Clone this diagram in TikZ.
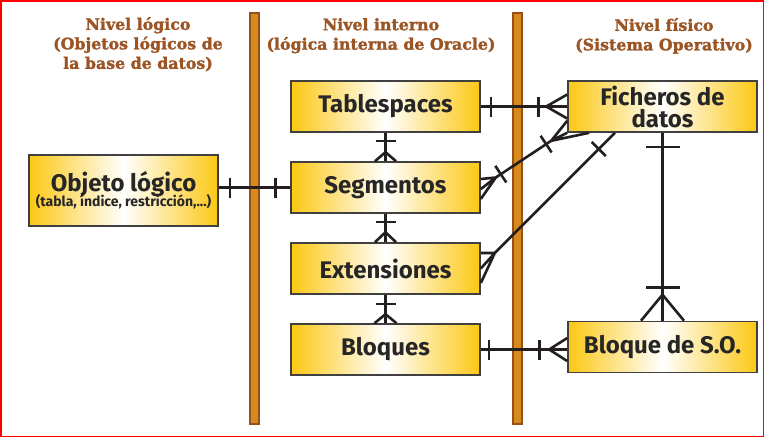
\documentclass[tikz,border=0pt]{standalone}
\usepackage{fontspec}
\setmainfont{Fira Sans}
\newfontfamily\headfont[BoldFont={DejaVu Serif Bold},BoldFeatures={FakeBold=1.6}]{DejaVu Serif}
\usetikzlibrary{positioning, calc, decorations.markings}

\definecolor{gold}{RGB}{252,200,20}
\definecolor{barC}{RGB}{214,138,28}
\definecolor{barD}{RGB}{150,80,28}
\definecolor{headC}{RGB}{155,84,35}
\definecolor{lineC}{RGB}{35,31,32}
\definecolor{boxD}{RGB}{64,64,64}

\begin{document}
\begin{tikzpicture}[x=1pt,y=-1pt,node distance=81pt,on grid,
    rel/.style={line width=2.6pt,draw=lineC},
    onetick/.style={postaction={decorate,decoration={markings,
        mark=at position #1 with {\draw[rel] (0,-10)--(0,10);}}}},
    bigtick/.style={postaction={decorate,decoration={markings,
        mark=at position #1 with {\draw[rel] (0,-17)--(0,17);}}}},
    crow/.style 2 args={postaction={decorate,decoration={markings,
        mark=at position 1 with {\draw[rel] (-#1,0)--(0,#2) (-#1,0)--(0,-#2);}}}}]
  \tikzstyle{box}=[draw=boxD,line width=1.6pt,left color=gold,right color=gold,middle color=white,
    minimum width=189pt,minimum height=51pt,inner sep=0pt,text=black!85,align=center,
    font=\bfseries\fontsize{24}{22}\selectfont]
  \tikzstyle{head}=[font=\headfont\bfseries\fontsize{15.8}{19.5}\selectfont,text=headC,align=center,
    inner sep=0pt,anchor=north]
  \tikzstyle{bar}=[draw=barD,fill=barC,line width=2pt]

  \useasboundingbox (0,0) rectangle (764,437);

  % headings and level bars
  \node[head] (lgH) at (138,17) {Nivel lógico\\(Objetos lógicos de\\la base de datos)};
  \node[head] (inH) at (381,18) {Nivel interno\\(lógica interna de Oracle)};
  \node[head] (fiH) at (664,18) {Nivel físico\\(Sistema Operativo)};
  \draw[bar] (249.5,12.5) rectangle (258.5,424);
  \draw[bar] (512.5,12.5) rectangle (521.5,424);

  % boxes
  \node[box,minimum height=71pt] (obj) at (123.5,190.5)
    {Objeto lógico\\[-7pt]{\fontsize{14}{14}\selectfont(tabla, índice, restricción,...)}};
  \node[box] (tbs) at (385.5,106.5) {Tablespaces};
  \node[box] (sg)  [below=of tbs] {Segmentos};
  \node[box] (ext) [below=of sg]  {Extensiones};
  \node[box] (blq) [below=of ext] {Bloques};
  \node[box] (fich) at (662.5,106.5) {Ficheros de\\datos};
  \node[box] (bso)  at (662.5,347)   {Bloque de S.O.};

  % straight relations
  \draw[rel,onetick=11pt,onetick=-15pt] (obj.east |- sg) -- (sg.west);
  \draw[rel,onetick=10pt,onetick=-29pt,crow={21}{12}] (tbs.east) -- (fich.west);
  \draw[rel,onetick=8pt,onetick=-28pt,crow={18}{11.5}] (blq.east) -- (blq.east -| bso.west);
  \draw[rel,onetick=8pt,crow={9}{10.5}] (tbs.south) -- (sg.north);
  \draw[rel,onetick=8pt,crow={10}{10.5}] (sg.south) -- (ext.north);
  \draw[rel,onetick=9pt,crow={9}{11}] (ext.south) -- (blq.north);
  \draw[rel,bigtick=14pt,bigtick=-33pt,crow={26}{21.5}] (fich.south) -- (bso.north);

  % diagonal relations
  \coordinate (sgC) at ($(sg.east)+(15,-10)$);
  \coordinate (fiC) at ($(fich.south west)+(-16,8)$);
  \coordinate (exC) at ($(ext.east)+(14,-15.5)$);
  \coordinate (fiD) at ($(fich.south)+(-47.5,0)$);
  \draw[rel,onetick=6pt,onetick=-6pt] (sgC) -- (fiC);
  \draw[rel] ($(sg.east)+(0,-8.5)$) -- (sgC) ($(sg.east)+(0,11.5)$) -- (sgC)
    ($(sg.east)+(0,1.5)$) -- (sgC);
  \draw[rel] ($(fich.south west)+(0,-12)$) -- (fiC) ($(fich.south west)+(22,0)$) -- (fiC)
    (fich.south west) -- (fiC);
  \draw[rel,onetick=-23pt] (exC) -- (fiD);
  \draw[rel] ($(ext.east)+(0,-15.5)$) -- (exC) ($(ext.east)+(0,14.5)$) -- (exC)
    (ext.east) -- (exC);

  \draw[red,line width=1.5pt] (0.75,0.75) rectangle (763.25,436.25);
\end{tikzpicture}
\end{document}
